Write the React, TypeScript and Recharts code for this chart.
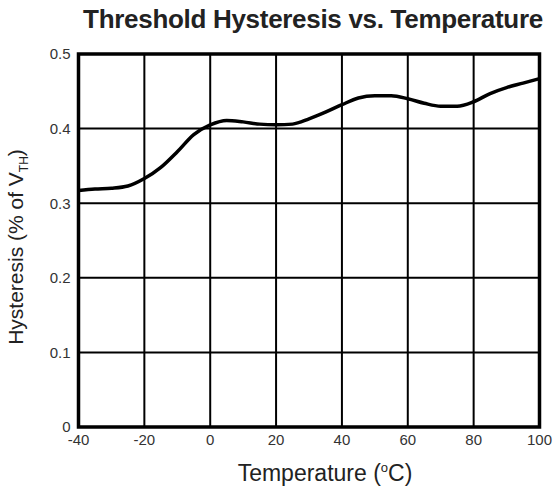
import React from 'react'
import { LineChart, Line, XAxis, YAxis, CartesianGrid, ReferenceArea } from 'recharts'

// temperatures in °C and hysteresis in % of V_TH
const temps = [-40, -35, -30, -25, -20, -15, -10, -5, 0, 5, 10, 15, 20, 25, 30, 35, 40, 45, 50, 55, 60, 65, 70, 75, 80, 85, 90, 95, 100]
const hysteresis = [
  0.317, 0.319, 0.32, 0.323, 0.333, 0.348, 0.369, 0.392, 0.405, 0.411, 0.409, 0.406, 0.405, 0.406, 0.413, 0.422, 0.432,
  0.441, 0.444, 0.444, 0.44, 0.434, 0.43, 0.43, 0.436, 0.447, 0.455, 0.461, 0.467,
]
const xTicks = [-40, -20, 0, 20, 40, 60, 80, 100]
const yTicks = [0, 0.1, 0.2, 0.3, 0.4, 0.5]

const data = temps.map((t, i) => ({ temp: t, value: hysteresis[i] }))

const font = '"Liberation Sans", Arial, sans-serif'

const App: React.FC = () => {
  return (
    <div style={{ position: 'relative', width: 555, height: 486, fontFamily: font, background: '#fff' }}>
      <style>{'body{margin:0}'}</style>
      <div
        style={{
          position: 'absolute',
          left: 313 - 250,
          width: 500,
          top: 4,
          textAlign: 'center',
          fontSize: 26,
          lineHeight: '30px',
          fontWeight: 'bold',
          letterSpacing: -0.3,
          whiteSpace: 'nowrap',
          color: '#222',
        }}
      >
        Threshold Hysteresis vs. Temperature
      </div>
      <LineChart width={555} height={486} data={data} margin={{ top: 54, right: 15.5, bottom: 29, left: 18.5 }}>
        <CartesianGrid stroke='#000' strokeWidth={2} horizontalValues={yTicks} verticalValues={xTicks} />
        <XAxis
          dataKey='temp'
          type='number'
          domain={[-40, 100]}
          ticks={xTicks}
          height={30}
          axisLine={false}
          tickLine={false}
          tickMargin={1}
          tick={{ fill: '#333', fontSize: 15, fontFamily: font }}
        />
        <YAxis
          type='number'
          domain={[0, 0.5]}
          ticks={yTicks}
          width={60}
          axisLine={false}
          tickLine={false}
          tickMargin={2}
          tickFormatter={(v: number) => (v === 0 ? '0' : v.toFixed(1))}
          tick={{ fill: '#333', fontSize: 15, fontFamily: font }}
        />
        <ReferenceArea x1={-40} x2={100} y1={0} y2={0.5} fill='none' stroke='#000' strokeWidth={3.5} fillOpacity={0} />
        <Line type='monotone' dataKey='value' stroke='#000' strokeWidth={3.5} dot={false} isAnimationActive={false} />
      </LineChart>
      <div
        style={{
          position: 'absolute',
          left: 325 - 150,
          width: 300,
          top: 455,
          textAlign: 'center',
          fontSize: 23,
          lineHeight: '26px',
          whiteSpace: 'nowrap',
          color: '#222',
        }}
      >
        Temperature (<sup style={{ fontSize: 13 }}>o</sup>C)
      </div>
      <div
        style={{
          position: 'absolute',
          left: 19.5,
          top: 247,
          transform: 'translate(-50%, -50%) rotate(-90deg)',
          whiteSpace: 'nowrap',
          fontSize: 21,
          lineHeight: '24px',
          color: '#222',
        }}
      >
        Hysteresis (% of V<sub style={{ fontSize: 12 }}>TH</sub>)
      </div>
    </div>
  )
}

export default App
